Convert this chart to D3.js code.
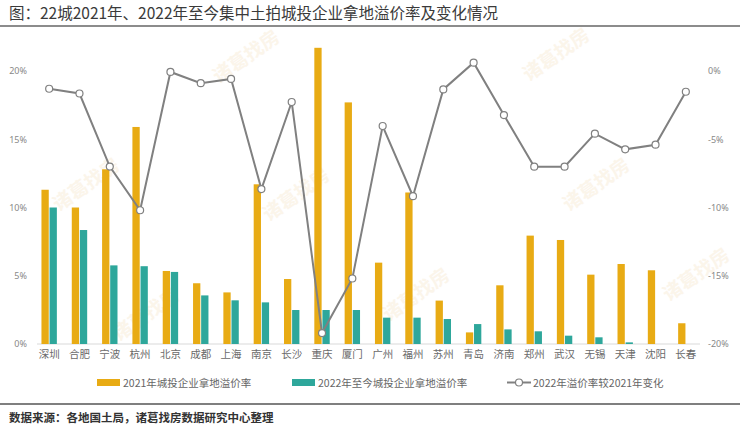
<!DOCTYPE html>
<html>
<head>
<meta charset="utf-8">
<script src="https://cdn.jsdelivr.net/npm/d3@7"></script>
<style>
  body { margin: 0; background: #fff; }
  svg { display: block; font-family: "Noto Sans CJK SC", "Noto Sans", sans-serif; }
</style>
</head>
<body>
<script>
/**Data */
const cities = ["深圳", "合肥", "宁波", "杭州", "北京", "成都", "上海", "南京", "长沙", "重庆", "厦门",
  "广州", "福州", "苏州", "青岛", "济南", "郑州", "武汉", "无锡", "天津", "沈阳", "长春"];
const premium2021 = [11.3, 10.0, 12.8, 15.9, 5.35, 4.45, 3.78, 11.7, 4.76, 21.7, 17.7,
  5.96, 11.1, 3.18, 0.85, 4.3, 7.94, 7.62, 5.08, 5.86, 5.4, 1.52];
const premium2022 = [10.0, 8.35, 5.76, 5.7, 5.28, 3.56, 3.2, 3.05, 2.49, 2.49, 2.49,
  1.93, 1.93, 1.83, 1.46, 1.07, 0.93, 0.61, 0.49, 0.12, 0, 0];
const change = [-1.3, -1.65, -7.0, -10.2, -0.07, -0.89, -0.58, -8.65, -2.27, -19.2, -15.2,
  -4.03, -9.17, -1.35, 0.61, -3.23, -7.01, -7.01, -4.59, -5.74, -5.4, -1.52];
const leftTicks = [0, 5, 10, 15, 20];
const rightTicks = [-20, -15, -10, -5, 0];
const seriesNames = ["2021年城投企业拿地溢价率", "2022年至今城投企业拿地溢价率", "2022年溢价率较2021年变化"];

const width = 740;
const height = 427;
const colors = ["#E8AB14", "#2EA79B", "#808080"];

const svg = d3.select("body").append("svg")
  .attr("width", width)
  .attr("height", height);

// faint watermark
const marks = [[250, 62], [560, 60], [90, 190], [300, 200], [600, 190], [150, 320], [420, 300], [700, 280]];
marks.forEach(m => {
  svg.append("text")
    .attr("transform", "translate(" + m[0] + "," + m[1] + ") rotate(-35)")
    .attr("text-anchor", "middle")
    .attr("font-size", "19px")
    .attr("font-weight", "bold")
    .attr("fill", "#f6e3c6")
    .attr("opacity", 0.35)
    .text("诸葛找房");
});

// title + rules
svg.append("text")
  .attr("x", 9).attr("y", 19)
  .attr("font-size", "15.5px")
  .attr("fill", "#3a3a3a")
  .text("图：22城2021年、2022年至今集中土拍城投企业拿地溢价率及变化情况");
svg.append("line")
  .attr("x1", 0).attr("x2", width).attr("y1", 26).attr("y2", 26)
  .attr("stroke", "#666").attr("stroke-width", 1.5);
svg.append("line")
  .attr("x1", 0).attr("x2", width).attr("y1", 404).attr("y2", 404)
  .attr("stroke", "#555").attr("stroke-width", 1.5);
svg.append("text")
  .attr("x", 9).attr("y", 422)
  .attr("font-size", "11.5px")
  .attr("font-weight", "bold")
  .attr("fill", "#333")
  .text("数据来源：各地国土局，诸葛找房数据研究中心整理");

/**Scales */
const x = d3.scaleBand().domain(cities).range([34, 701]);
const xInner = d3.scaleBand().domain([0, 1]).range([0, 15.4]).paddingInner(0.1);
const yLeft = d3.scaleLinear().domain([0, 20]).range([344, 71]);
const yRight = d3.scaleLinear().domain([-20, 0]).range([344, 71]);

// axes
const leftAxis = svg.append("g")
  .attr("transform", "translate(30,0)")
  .call(d3.axisLeft(yLeft).tickValues(leftTicks).tickSize(0).tickPadding(3).tickFormat(d => d + "%"));
const rightAxis = svg.append("g")
  .attr("transform", "translate(705,0)")
  .call(d3.axisRight(yRight).tickValues(rightTicks).tickSize(0).tickPadding(3).tickFormat(d => d + "%"));
[leftAxis, rightAxis].forEach(a => {
  a.select(".domain").remove();
  a.selectAll("text").attr("font-size", "9px").attr("fill", "#888")
    .attr("font-family", "'Noto Sans', sans-serif");
});

const bottomAxis = svg.append("g")
  .attr("transform", "translate(0,344)")
  .call(d3.axisBottom(x).tickSize(0).tickPadding(7));
bottomAxis.select(".domain").remove();
bottomAxis.selectAll("text").attr("font-size", "10.5px").attr("fill", "#6a6a6a")
  .attr("font-family", "'Noto Sans CJK SC', sans-serif");
svg.append("line")
  .attr("x1", 37).attr("x2", 700).attr("y1", 344).attr("y2", 344)
  .attr("stroke", "#d9d9d9").attr("stroke-width", 1);

// bars
[premium2021, premium2022].forEach((values, s) => {
  svg.append("g").selectAll("rect")
    .data(values)
    .enter()
    .append("rect")
    .attr("x", (v, i) => x(cities[i]) + x.bandwidth() / 2 - 7.7 + xInner(s))
    .attr("width", xInner.bandwidth())
    .attr("y", v => yLeft(v))
    .attr("height", v => yLeft(0) - yLeft(v))
    .attr("fill", colors[s]);
});

// change line
const line = d3.line()
  .x((v, i) => x(cities[i]) + x.bandwidth() / 2)
  .y(v => yRight(v));
svg.append("path")
  .datum(change)
  .attr("d", line)
  .attr("fill", "none")
  .attr("stroke", colors[2])
  .attr("stroke-width", 2);
svg.append("g").selectAll("circle")
  .data(change)
  .enter()
  .append("circle")
  .attr("cx", (v, i) => x(cities[i]) + x.bandwidth() / 2)
  .attr("cy", v => yRight(v))
  .attr("r", 3.5)
  .attr("fill", "#fff")
  .attr("stroke", colors[2])
  .attr("stroke-width", 1.2);

// legend
const legend = svg.append("g").attr("id", "legend");
const legendX = [97, 292, 507];
seriesNames.forEach((name, i) => {
  if (i < 2) {
    legend.append("rect")
      .attr("x", legendX[i]).attr("y", 379)
      .attr("width", 23).attr("height", 7)
      .attr("fill", colors[i]);
  } else {
    legend.append("line")
      .attr("x1", legendX[i]).attr("x2", legendX[i] + 24)
      .attr("y1", 382.5).attr("y2", 382.5)
      .attr("stroke", colors[i]).attr("stroke-width", 2);
    legend.append("circle")
      .attr("cx", legendX[i] + 12).attr("cy", 382.5).attr("r", 3.5)
      .attr("fill", "#fff").attr("stroke", colors[i]).attr("stroke-width", 1.2);
  }
  legend.append("text")
    .attr("x", legendX[i] + 26)
    .attr("y", 386.5)
    .attr("font-size", "10.5px")
    .attr("fill", "#666")
    .text(name);
});
</script>
</body>
</html>
